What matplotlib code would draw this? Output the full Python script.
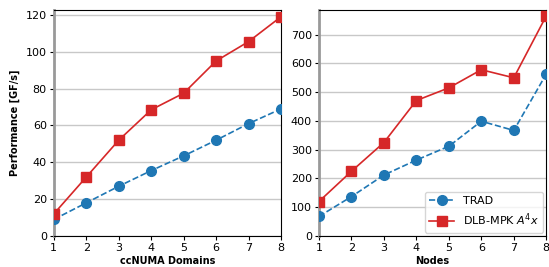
import matplotlib
matplotlib.use('Agg')
import matplotlib.pyplot as plt

# performance data
domains = [1, 2, 3, 4, 5, 6, 7, 8]
trad_numa = [9, 18, 27, 35.5, 43.5, 52, 61, 69]
dlb_numa = [12, 32, 52, 68.5, 77.5, 95, 105.5, 119]

nodes = [1, 2, 3, 4, 5, 6, 7, 8]
trad_nodes = [68, 137, 212, 264, 312, 399, 367, 563]
dlb_nodes = [120, 225, 325, 471, 515, 578, 550, 765]

blue = '#1f77b4'
red = '#d62728'

fig = plt.figure(figsize=(5.49, 2.67), dpi=100)
ax1 = fig.add_axes([0.098, 0.116, 0.414, 0.847])
ax2 = fig.add_axes([0.581, 0.116, 0.414, 0.847])


def style(ax, x, trad, dlb, ytop, yticks, xlabel):
    ax.grid(axis='y', color='#c8c8c8', lw=1, zorder=0)
    ax.plot(x, trad, '--o', color=blue, ms=7, lw=1.2, label='TRAD', zorder=3)
    ax.plot(x, dlb, '-s', color=red, ms=7, lw=1.2, label='DLB-MPK $A^4x$', zorder=3)
    ax.set_xlim(1, 8)
    ax.set_ylim(0, ytop)
    ax.set_xticks(x)
    ax.set_yticks(yticks)
    ax.spines['left'].set_color('#999999')
    ax.spines['left'].set_linewidth(2)
    ax.tick_params(labelsize=8, length=3, pad=2)
    ax.set_xlabel(xlabel, fontsize=7, fontweight='bold', labelpad=2)


style(ax1, domains, trad_numa, dlb_numa, 122.7, range(0, 121, 20), 'ccNUMA Domains')
ax1.set_ylabel('Performance [GF/s]', fontsize=7, fontweight='bold', labelpad=4)

style(ax2, nodes, trad_nodes, dlb_nodes, 786, range(0, 701, 100), 'Nodes')
ax2.legend(loc='lower right', fontsize=8, handlelength=2.2, borderaxespad=0.3,
           framealpha=0.8)

fig.savefig('out.png', dpi=100)
